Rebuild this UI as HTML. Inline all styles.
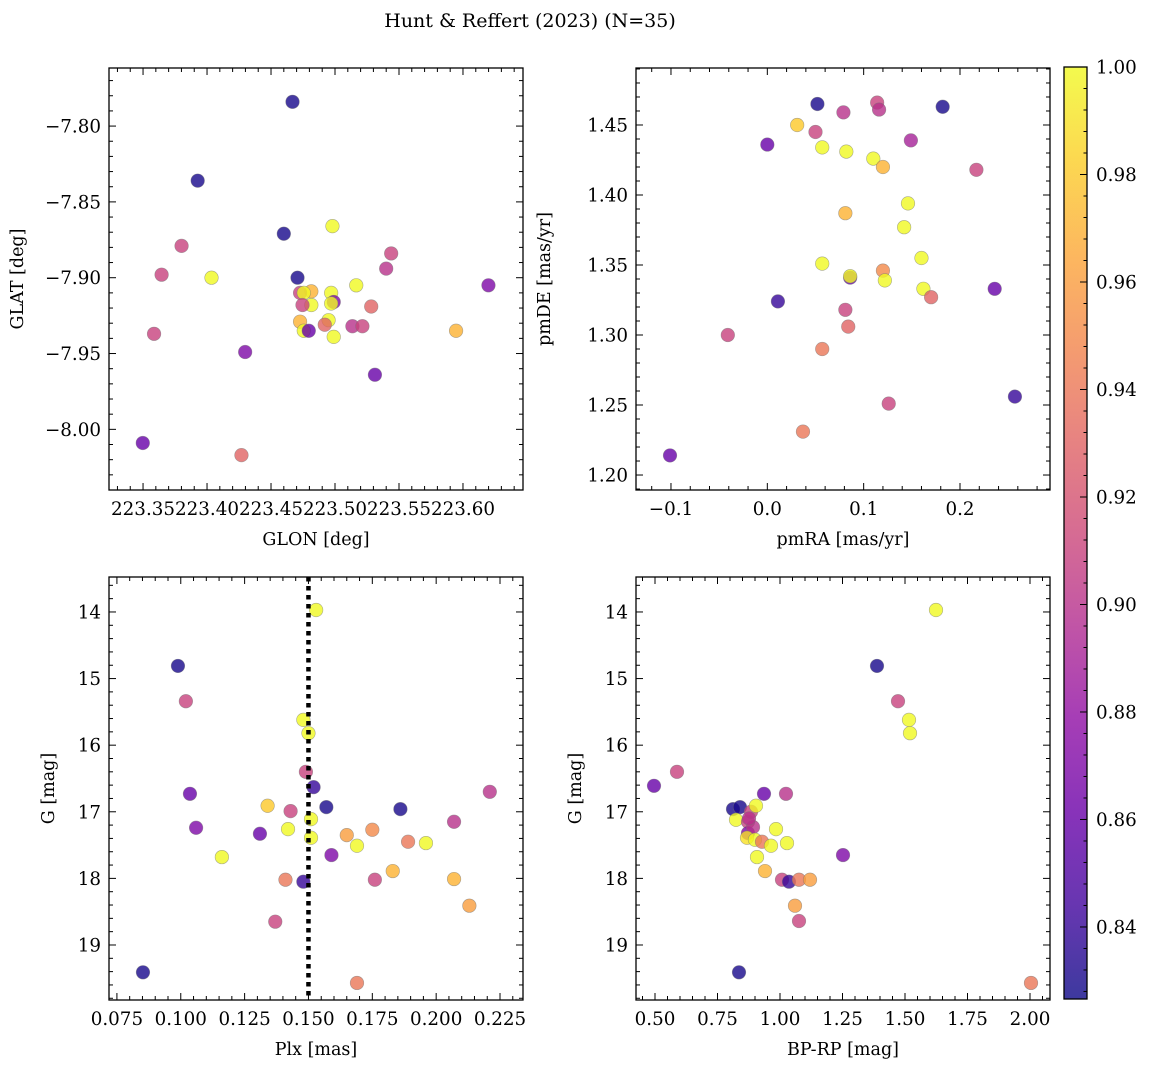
<!DOCTYPE html>
<html><head><meta charset="utf-8">
<style>
body{margin:0;background:#fff;}
svg text{font-family:"DejaVu Serif","Liberation Serif",serif;fill:#000;}
</style></head>
<body>
<svg id="fig" width="1149" height="1067" xmlns="http://www.w3.org/2000/svg">
<text x="530" y="27" font-size="19" text-anchor="middle">Hunt &amp; Reffert (2023) (N=35)</text>
</svg>
<script>
// Panel 1: GLON / GLAT
const p1x=[223.4668,223.3927,223.460,223.4707,223.3801,223.3645,223.4035,223.3586,223.4298,223.3498,223.4269,223.498,223.5439,223.540,223.6199,223.5166,223.4815,223.4727,223.4756,223.497,223.499,223.497,223.4815,223.4746,223.5283,223.4727,223.495,223.4756,223.4795,223.492,223.5136,223.5214,223.499,223.5312,223.5946];
const p1y=[-7.784,-7.836,-7.871,-7.900,-7.879,-7.898,-7.900,-7.937,-7.949,-8.009,-8.017,-7.866,-7.884,-7.894,-7.905,-7.905,-7.909,-7.910,-7.910,-7.910,-7.916,-7.917,-7.918,-7.918,-7.919,-7.929,-7.928,-7.935,-7.935,-7.931,-7.932,-7.932,-7.939,-7.964,-7.935];
const p1c=[0.83,0.83,0.83,0.83,0.91,0.91,1.0,0.91,0.87,0.86,0.93,1.0,0.91,0.90,0.87,1.0,0.97,0.91,1.0,1.0,0.87,1.0,1.0,0.91,0.93,0.97,1.0,1.0,0.86,0.93,0.90,0.91,1.0,0.86,0.97];
// Panel 2: pmRA / pmDE
const p2x=[-0.101,-0.041,0.0,0.011,0.031,0.037,0.052,0.050,0.057,0.057,0.057,0.079,0.082,0.081,0.086,0.086,0.081,0.084,0.114,0.116,0.110,0.120,0.120,0.122,0.126,0.142,0.146,0.149,0.160,0.162,0.170,0.182,0.217,0.236,0.257];
const p2y=[1.214,1.300,1.436,1.324,1.450,1.231,1.465,1.445,1.434,1.351,1.290,1.459,1.431,1.387,1.341,1.342,1.318,1.306,1.466,1.461,1.426,1.420,1.346,1.339,1.251,1.377,1.394,1.439,1.355,1.333,1.327,1.463,1.418,1.333,1.256];
const p2c=[0.86,0.91,0.86,0.84,0.98,0.94,0.83,0.91,1.0,1.0,0.94,0.90,1.0,0.97,0.86,1.0,0.91,0.93,0.91,0.90,1.0,0.97,0.95,1.0,0.91,1.0,1.0,0.89,1.0,1.0,0.93,0.83,0.91,0.86,0.84];
// Panel 3: Plx / G
const p3x=[0.0852,0.0989,0.102,0.1036,0.106,0.1161,0.131,0.134,0.137,0.141,0.142,0.143,0.148,0.149,0.148,0.150,0.151,0.151,0.152,0.153,0.157,0.159,0.165,0.169,0.169,0.175,0.176,0.183,0.186,0.189,0.196,0.207,0.207,0.213,0.221];
const p3y=[19.41,14.81,15.34,16.73,17.24,17.68,17.33,16.91,18.65,18.02,17.26,16.99,15.62,16.40,18.05,15.82,17.11,17.39,16.63,13.97,16.93,17.65,17.35,17.51,19.57,17.27,18.02,17.89,16.96,17.45,17.47,17.15,18.01,18.41,16.70];
const p3c=[0.83,0.83,0.91,0.86,0.87,1.0,0.86,0.98,0.91,0.94,1.0,0.91,1.0,0.91,0.84,1.0,1.0,1.0,0.84,1.0,0.83,0.87,0.96,1.0,0.94,0.95,0.91,0.97,0.83,0.94,1.0,0.90,0.97,0.96,0.90];
// Panel 4: BP-RP / G
const p4x=[0.496,0.588,0.812,0.840,0.824,0.836,0.872,0.872,0.892,0.868,0.884,0.904,0.936,0.900,0.928,0.908,0.940,0.964,0.984,1.028,1.008,1.036,1.024,1.060,1.076,1.076,1.120,1.252,1.388,1.516,1.520,1.472,1.624,2.004,0.876];
const p4y=[16.61,16.40,16.96,16.93,17.12,19.41,17.15,17.32,17.23,17.39,17.00,16.91,16.73,17.42,17.45,17.68,17.89,17.51,17.26,17.47,18.02,18.05,16.73,18.41,18.64,18.02,18.02,17.65,14.81,15.62,15.82,15.34,13.97,19.57,17.10];
const p4c=[0.86,0.91,0.83,0.83,1.0,0.83,0.91,0.87,0.90,0.99,0.91,1.0,0.86,1.0,0.94,1.0,0.97,1.0,1.0,1.0,0.91,0.84,0.90,0.96,0.91,0.94,0.96,0.87,0.83,1.0,1.0,0.91,1.0,0.94,0.90];
const cbTicks=[0.84,0.86,0.88,0.90,0.92,0.94,0.96,0.98,1.00];

const NS="http://www.w3.org/2000/svg";
const svg=document.getElementById('fig');
const CMIN=0.8266,CMAX=1.0;
const FS=18.3;
const stops=["#0d0887","#41049d","#6a00a8","#8f0da4","#b12a90","#cc4778","#e16462","#f2844b","#fca636","#fcce25","#f0f921"];
function hx(h){return [1,3,5].map(i=>parseInt(h.substr(i,2),16));}
function plasma(v){let t=(v-CMIN)/(CMAX-CMIN);t=Math.max(0,Math.min(1,t));const f=t*10,i=Math.min(9,Math.floor(f)),r=f-i;const a=hx(stops[i]),b=hx(stops[i+1]);return 'rgb('+a.map((c,k)=>Math.round(c+(b[k]-c)*r)).join(',')+')';}
function mk(tag,attrs,parent){const e=document.createElementNS(NS,tag);for(const k in attrs)e.setAttribute(k,attrs[k]);(parent||svg).appendChild(e);return e;}

function panel(name,L,T,W,H,xmin,xmax,ymin,ymax,invY,xmaj,xmin_step,xdec,ymaj,ymin_step,ydec,xlab,ylab,xs,ys,cs,vline){
  const g=mk('g',{});
  
  
  const sx=v=>L+(v-xmin)/(xmax-xmin)*W;
  const sy=v=>invY?T+(v-ymin)/(ymax-ymin)*H:T+H-(v-ymin)/(ymax-ymin)*H;
  const eps=1e-9;
  for(let v=Math.ceil(xmin/xmin_step-eps)*xmin_step;v<=xmax+eps;v+=xmin_step){
    const isMaj=Math.abs(v/xmaj-Math.round(v/xmaj))<1e-6;const len=isMaj?7:4;const x=sx(v);
    mk('line',{x1:x,x2:x,y1:T+H,y2:T+H-len,stroke:'#000','stroke-width':1},g);
    mk('line',{x1:x,x2:x,y1:T,y2:T+len,stroke:'#000','stroke-width':1},g);
    if(isMaj){const t=mk('text',{x:x,y:T+H+25,'font-size':FS,'text-anchor':'middle'},g);t.textContent=(Math.abs(v)<1e-9?0:v).toFixed(xdec).replace('-','\u2212');}
  }
  for(let v=Math.ceil(Math.min(ymin,ymax)/ymin_step-eps)*ymin_step;v<=Math.max(ymin,ymax)+eps;v+=ymin_step){
    const isMaj=Math.abs(v/ymaj-Math.round(v/ymaj))<1e-6;const len=isMaj?7:4;const y=sy(v);
    mk('line',{x1:L,x2:L+len,y1:y,y2:y,stroke:'#000','stroke-width':1},g);
    mk('line',{x1:L+W,x2:L+W-len,y1:y,y2:y,stroke:'#000','stroke-width':1},g);
    if(isMaj){const t=mk('text',{x:L-8,y:y+6.5,'font-size':FS,'text-anchor':'end'},g);t.textContent=(Math.abs(v)<1e-9?0:v).toFixed(ydec).replace('-','\u2212');}
  }
  xs.forEach((xv,i)=>{const c=mk('circle',{cx:sx(xv),cy:sy(ys[i]),r:6.8,fill:plasma(cs[i]),'fill-opacity':0.8,stroke:'#777','stroke-opacity':0.6,'stroke-width':0.6},g);
    
    });
  if(vline!==undefined){const l=mk('line',{x1:sx(vline),x2:sx(vline),y1:T,y2:T+H,stroke:'#000','stroke-width':4.5,'stroke-dasharray':'4.5,4.5'},g);
    
    }
  const fr=mk('rect',{x:L,y:T,width:W,height:H,fill:'none',stroke:'#000','stroke-width':1.3},g);
  
  
  const xl=mk('text',{x:L+W/2,y:T+H+55,'font-size':17.5,'text-anchor':'middle'},g);xl.textContent=xlab;
  
  
  const yx=L-(ydec===0?55:86);
  const yl=mk('text',{x:yx,y:T+H/2,'font-size':17.5,'text-anchor':'middle',transform:'rotate(-90 '+yx+' '+(T+H/2)+')'},g);yl.textContent=ylab;
  
  
}
panel('glon-glat-panel',109,68,414,422,223.3234,223.6469,-8.040,-7.7617,false,0.05,0.01,2,0.05,0.01,2,'GLON [deg]','GLAT [deg]',p1x,p1y,p1c);
panel('pm-panel',636,68,414,422,-0.1363,0.2934,1.1893,1.4907,false,0.1,0.02,1,0.05,0.01,2,'pmRA [mas/yr]','pmDE [mas/yr]',p2x,p2y,p2c);
panel('plx-g-panel',109,577,414,423,0.0719,0.234,13.475,19.826,true,0.025,0.005,3,1,0.2,0,'Plx [mas]','G [mag]',p3x,p3y,p3c,0.15);
panel('cmd-panel',636,577,414,423,0.424,2.08,13.475,19.826,true,0.25,0.05,2,1,0.2,0,'BP-RP [mag]','G [mag]',p4x,p4y,p4c);

// colorbar
const cb=mk('g',{});


const CL=1064,CT=67,CW=23,CH=932;
const defs=mk('defs',{},cb);
const lg=mk('linearGradient',{id:'cbg',x1:0,y1:1,x2:0,y2:0},defs);
for(let i=0;i<=20;i++){const v=CMIN+(CMAX-CMIN)*i/20;mk('stop',{offset:i/20,'stop-color':plasma(v),'stop-opacity':0.8},lg);}
mk('rect',{x:CL,y:CT,width:CW,height:CH,fill:'url(#cbg)'},cb);
const cy=v=>CT+CH-(v-CMIN)/(CMAX-CMIN)*CH;
for(let v=0.828;v<=1.0001;v+=0.004){const y=cy(v);mk('line',{x1:CL+CW,x2:CL+CW-3.5,y1:y,y2:y,stroke:'#000','stroke-width':1},cb);}
cbTicks.forEach(v=>{const y=cy(v);mk('line',{x1:CL+CW,x2:CL+CW-7,y1:y,y2:y,stroke:'#000','stroke-width':1},cb);
  const t=mk('text',{x:CL+CW+9,y:y+6.5,'font-size':FS},cb);t.textContent=v.toFixed(2);});
mk('rect',{x:CL,y:CT,width:CW,height:CH,fill:'none',stroke:'#000','stroke-width':1.3},cb);
</script>
</body></html>
